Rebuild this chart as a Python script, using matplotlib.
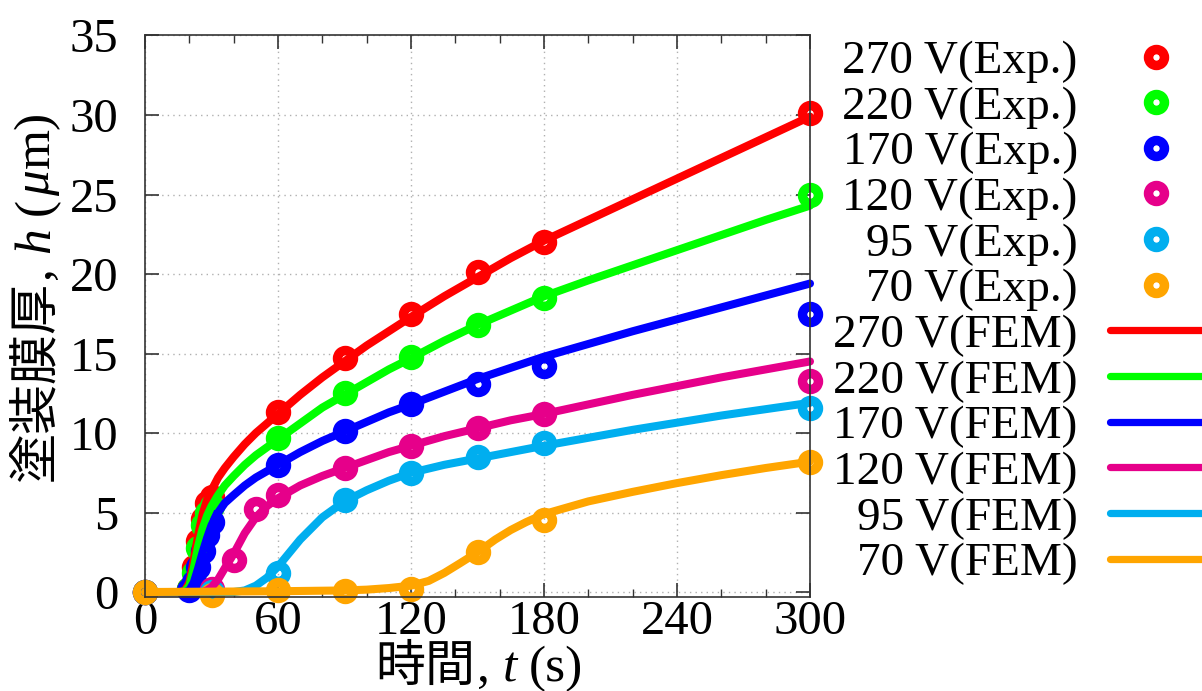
import matplotlib
matplotlib.use("Agg")
import matplotlib.pyplot as plt
from matplotlib.lines import Line2D
from matplotlib.ticker import MultipleLocator
from matplotlib.transforms import IdentityTransform

# ==========================================================
# Fonts
# ==========================================================

SERIF = "Liberation Serif"
CJK = "Noto Sans CJK JP"

plt.rcParams["font.family"] = [SERIF, CJK]

# ==========================================================
# Data
# ==========================================================

voltages = ["270 V", "220 V", "170 V", "120 V", "95 V", "70 V"]
colors = ["#ff0000", "#00ff00", "#0000ff", "#e6008a", "#00aeef", "#ffa500"]

# Experiment (s, um)
t_exp_270 = [0, 20, 22, 24, 26, 28, 30, 60, 90, 120, 150, 180, 300]
h_exp_270 = [0, 0.2, 1.6, 3.2, 4.6, 5.6, 6.0, 11.3, 14.7, 17.5, 20.1, 22.0, 30.1]

t_exp_220 = [0, 20, 22, 24, 26, 28, 30, 60, 90, 120, 150, 180, 300]
h_exp_220 = [0, 0.2, 1.2, 2.8, 4.2, 5.0, 5.4, 9.7, 12.5, 14.8, 16.8, 18.5, 25.0]

t_exp_170 = [0, 20, 22, 24, 26, 28, 30, 60, 90, 120, 150, 180, 300]
h_exp_170 = [0, 0.1, 0.6, 1.6, 2.6, 3.6, 4.4, 8.0, 10.1, 11.8, 13.1, 14.2, 17.5]

t_exp_120 = [0, 30, 40, 50, 60, 90, 120, 150, 180, 300]
h_exp_120 = [0, 0.2, 2.0, 5.2, 6.1, 7.8, 9.2, 10.3, 11.2, 13.3]

t_exp_95 = [0, 30, 60, 90, 120, 150, 180, 300]
h_exp_95 = [0, 0.0, 1.2, 5.8, 7.5, 8.5, 9.4, 11.6]

t_exp_70 = [0, 30, 60, 90, 120, 150, 180, 300]
h_exp_70 = [0, -0.2, 0.1, 0.05, 0.2, 2.5, 4.5, 8.2]

# FEM (s, um)
t_fem_270 = [0, 16, 18, 20, 22, 24, 26, 28, 30, 33, 36, 40, 45, 50, 55, 60, 70, 80,
             90, 100, 110, 120, 135, 150, 165, 180, 200, 220, 240, 260, 280, 300]
h_fem_270 = [0, 0, 0.1, 0.6, 2.0, 3.6, 4.9, 5.8, 6.4, 7.2, 7.8, 8.5, 9.3, 10.0, 10.6, 11.2, 12.4, 13.5,
             14.5, 15.5, 16.4, 17.3, 18.6, 19.8, 21.0, 22.1, 23.4, 24.7, 26.0, 27.3, 28.6, 29.9]

t_fem_220 = [0, 16, 18, 20, 22, 24, 26, 28, 30, 33, 36, 40, 45, 50, 55, 60, 70, 80,
             90, 100, 110, 120, 135, 150, 165, 180, 200, 220, 240, 260, 280, 300]
h_fem_220 = [0, 0, 0.05, 0.4, 1.5, 2.9, 4.0, 4.8, 5.4, 6.1, 6.7, 7.3, 8.0, 8.6, 9.1, 9.6, 10.6, 11.6,
             12.4, 13.2, 14.0, 14.7, 15.8, 16.8, 17.7, 18.6, 19.6, 20.55, 21.5, 22.45, 23.4, 24.3]

t_fem_170 = [0, 18, 20, 22, 24, 26, 28, 30, 33, 36, 40, 45, 50, 55, 60, 70, 80,
             90, 100, 110, 120, 135, 150, 165, 180, 200, 220, 240, 260, 280, 300]
h_fem_170 = [0, 0, 0.1, 0.6, 1.5, 2.5, 3.4, 4.2, 5.0, 5.6, 6.1, 6.7, 7.2, 7.6, 8.0, 8.8, 9.5,
             10.1, 10.7, 11.3, 11.8, 12.6, 13.4, 14.1, 14.8, 15.6, 16.4, 17.15, 17.9, 18.65, 19.4]

t_fem_120 = [0, 26, 28, 30, 33, 36, 40, 45, 50, 55, 60, 70, 80,
             90, 100, 110, 120, 135, 150, 165, 180, 200, 220, 240, 260, 280, 300]
h_fem_120 = [0, 0, 0.1, 0.3, 0.8, 1.5, 2.4, 3.7, 4.7, 5.4, 5.9, 6.7, 7.3,
             7.8, 8.3, 8.8, 9.2, 9.8, 10.3, 10.8, 11.2, 11.8, 12.4, 12.95, 13.5, 14.0, 14.5]

t_fem_95 = [0, 40, 45, 50, 55, 60, 70, 80, 90, 100, 110, 120, 135, 150, 165, 180,
            200, 220, 240, 260, 280, 300]
h_fem_95 = [0, 0, 0.1, 0.4, 0.9, 1.6, 3.3, 4.7, 5.7, 6.4, 7.0, 7.5, 8.0, 8.4, 8.8, 9.2,
            9.7, 10.2, 10.65, 11.1, 11.5, 11.9]

t_fem_70 = [0, 60, 90, 100, 110, 120, 128, 135, 142, 150, 158, 165, 172, 180,
            200, 220, 240, 260, 280, 300]
h_fem_70 = [0, 0.05, 0.1, 0.15, 0.25, 0.4, 0.7, 1.2, 1.8, 2.5, 3.3, 3.9, 4.4, 4.9,
            5.7, 6.3, 6.85, 7.35, 7.8, 8.2]

exp_t = [t_exp_270, t_exp_220, t_exp_170, t_exp_120, t_exp_95, t_exp_70]
exp_h = [h_exp_270, h_exp_220, h_exp_170, h_exp_120, h_exp_95, h_exp_70]
fem_t = [t_fem_270, t_fem_220, t_fem_170, t_fem_120, t_fem_95, t_fem_70]
fem_h = [h_fem_270, h_fem_220, h_fem_170, h_fem_120, h_fem_95, h_fem_70]

x_ticks = [0, 60, 120, 180, 240, 300]
y_ticks = [0, 5, 10, 15, 20, 25, 30, 35]

# ==========================================================
# Figure
# ==========================================================

W, H = 1202, 691
fig = plt.figure(figsize=(W / 100, H / 100), dpi=100)
ax = fig.add_axes([145 / W, 1 - 596.8 / H, 665 / W, 561.3 / H])

MS, MEW, LW = 11.5, 6.8, 5.8

for t, h, c in zip(exp_t, exp_h, colors):
    ax.plot(t, h, ls="none", marker="o", ms=MS, mew=MEW, mfc="none", mec=c, clip_on=False)

for t, h, c in zip(fem_t, fem_h, colors):
    ax.plot(t, h, color=c, lw=LW, solid_capstyle="round", solid_joinstyle="round", clip_on=False)

ax.set_xlim(0, 300)
ax.set_ylim(-0.3, 35)
ax.set_xticks(x_ticks)
ax.set_yticks(y_ticks)
ax.xaxis.set_minor_locator(MultipleLocator(20))

ax.tick_params(which="both", direction="in", top=True, right=True, color="#333333")
ax.tick_params(which="major", length=10, width=1.2)
ax.tick_params(which="minor", length=6, width=1.0)
ax.tick_params(axis="x", labelsize=35, pad=2)
ax.tick_params(axis="y", labelsize=35, pad=19)
for lab in ax.get_xticklabels() + ax.get_yticklabels():
    lab.set_family(SERIF)

ax.grid(True, which="major", color="#b0b0b0", ls=(0, (1, 3)), lw=1.0)
ax.set_axisbelow(True)
for sp in ax.spines.values():
    sp.set_color("#333333")
    sp.set_linewidth(1.2)

# ==========================================================
# Axis labels (mixed CJK / serif italic)
# ==========================================================

def rich_label(cx, cy, pieces, rotation=0):
    # cx, cy: pixel position of the baseline centre, from the top-left corner
    renderer = fig.canvas.get_renderer()
    arts = []
    for s, gap, kw in pieces:
        a = fig.text(0, 0, s, transform=IdentityTransform(), rotation=rotation,
                     rotation_mode="anchor", ha="left", va="baseline", **kw)
        arts.append((a, gap))
    sizes = []
    for a, gap in arts:
        bb = a.get_window_extent(renderer)
        sizes.append(bb.width if rotation == 0 else bb.height)
    total = sum(sizes) + sum(g for _, g in arts)
    pos = -total / 2
    for (a, gap), size in zip(arts, sizes):
        pos += gap
        if rotation == 0:
            a.set_position((cx + pos, H - cy))
        else:
            a.set_position((cx, H - cy + pos))
        pos += size


cjk = dict(family=CJK, fontsize=36)
rm = dict(family=SERIF, fontsize=37)
it = dict(family=SERIF, fontsize=37, style="italic")

rich_label(479, 681, [("時間", 0, cjk), (",", 2, rm), ("t", 13, it), ("(s)", 12, rm)])
rich_label(49, 296, [("塗装膜厚", 0, cjk), (",", 2, rm), ("h", 13, it),
                     ("(", 12, rm), ("μ", 2, it), ("m)", 2, rm)], rotation=90)

# ==========================================================
# Legend
# ==========================================================

handles, labels = [], []
for v, c in zip(voltages, colors):
    handles.append(Line2D([], [], ls="none", marker="o", ms=MS, mew=MEW, mfc="none", mec=c))
    labels.append(v + "(Exp.)")
for v, c in zip(voltages, colors):
    handles.append(Line2D([], [], color=c, lw=LW * 0.9, solid_capstyle="round"))
    labels.append(v + "(FEM)")

fig.legend(handles, labels, loc="upper right", bbox_to_anchor=(1.0, 1 - 40 / H),
           bbox_transform=fig.transFigure, frameon=False, markerfirst=False,
           numpoints=1, handlelength=1.95, handletextpad=0.68, labelspacing=0.055,
           borderpad=0, borderaxespad=0, prop=dict(family=SERIF, size=34))

fig.savefig("out.png", dpi=100)
